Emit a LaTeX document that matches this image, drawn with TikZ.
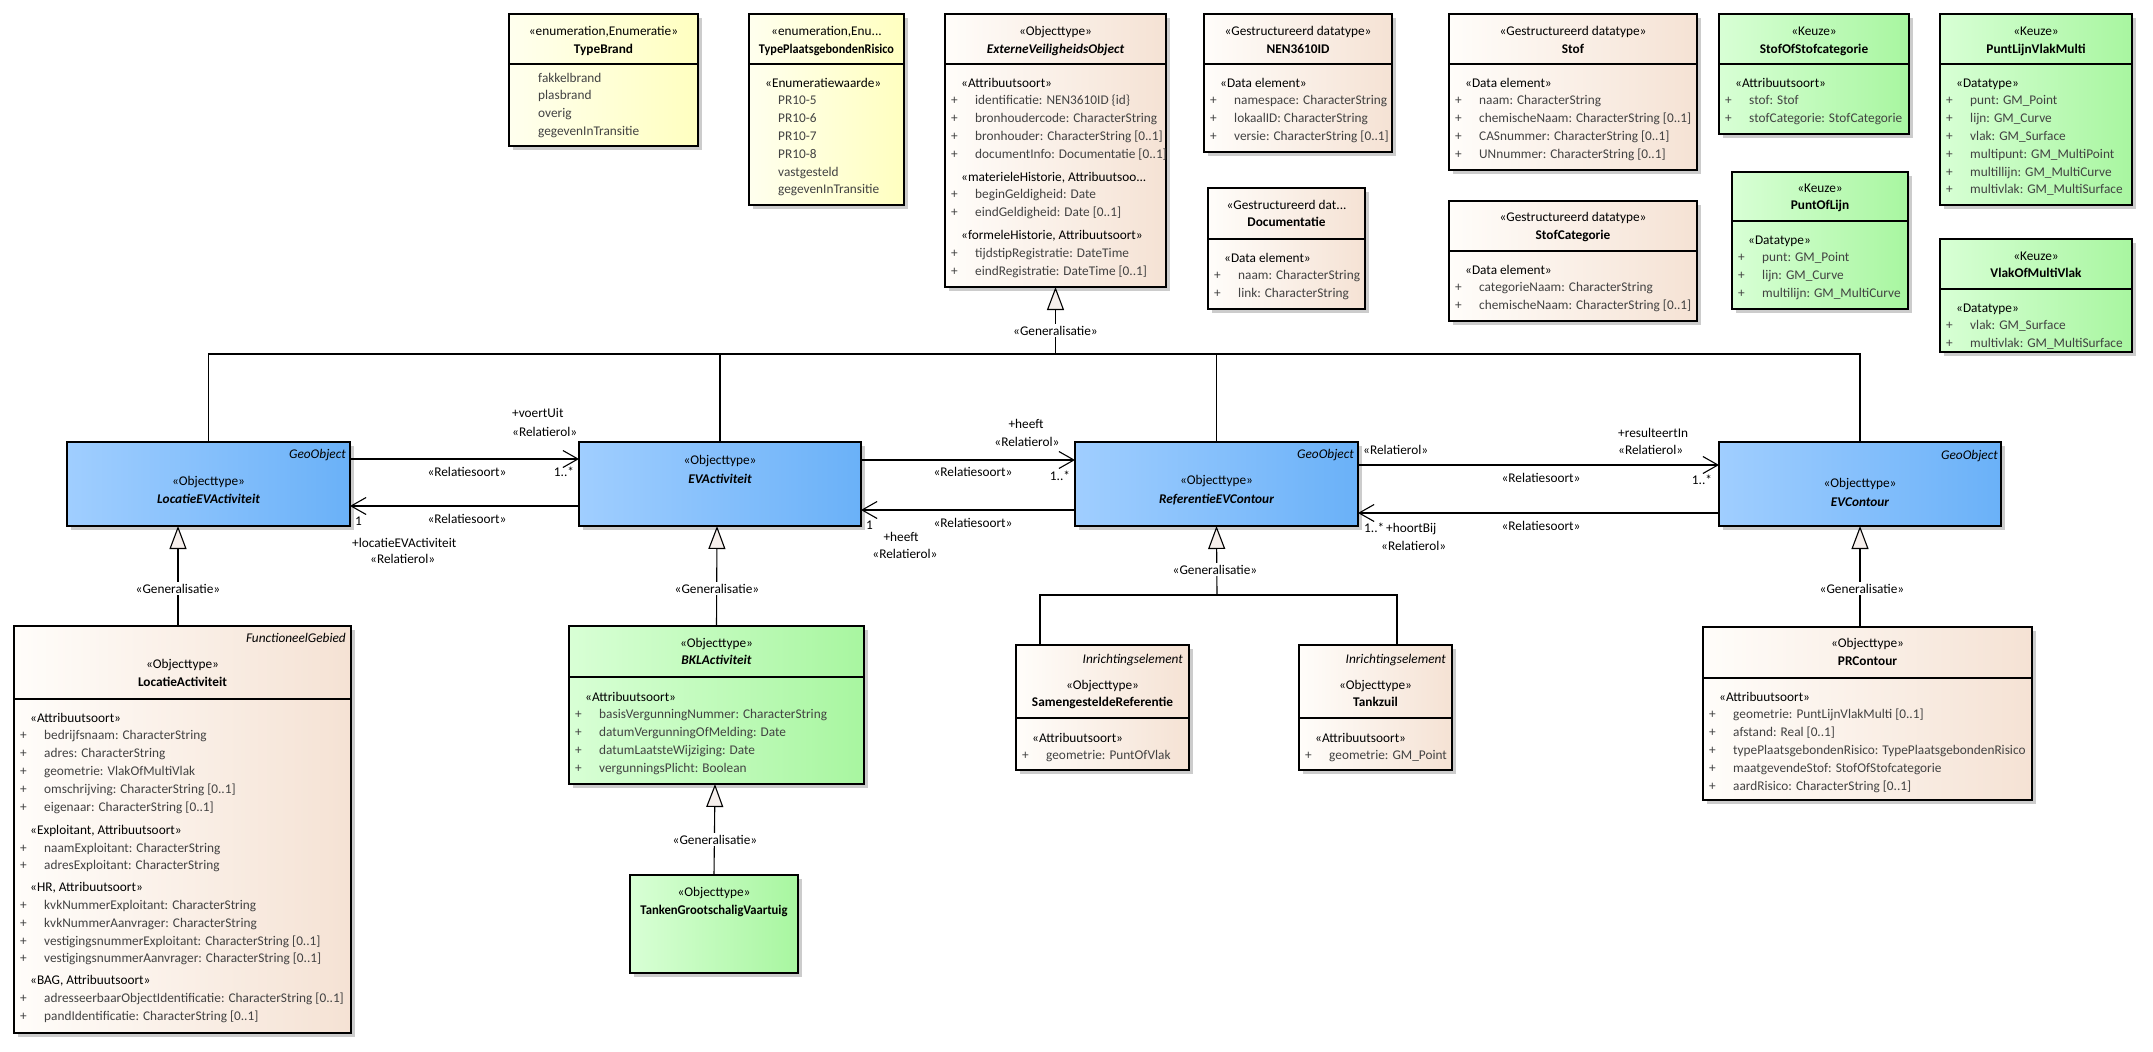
\documentclass[tikz,border=0pt]{standalone}
\usepackage{fontspec}
\usepackage{graphicx}
\setmainfont{Carlito}
\usetikzlibrary{arrows.meta,shadows}

\definecolor{yelL}{RGB}{255,255,238}
\definecolor{yelR}{RGB}{255,255,192}
\definecolor{begL}{RGB}{255,253,250}
\definecolor{begR}{RGB}{245,226,212}
\definecolor{grnL}{RGB}{216,255,213}
\definecolor{grnR}{RGB}{168,246,160}
\definecolor{bluL}{RGB}{160,206,255}
\definecolor{bluR}{RGB}{106,177,248}
\definecolor{attr}{RGB}{66,66,66}
\definecolor{trifill}{RGB}{246,239,236}

\newcommand\st[1]{\hspace*{10pt}\textcolor{black}{#1}}
\newcommand\pa[1]{\makebox[24pt][l]{+}#1}
\newcommand\en[1]{\hspace*{23pt}#1}
\newcommand\ubox[6]{%
  \pgfmathsetlengthmacro\bw{#5-#3}\pgfmathsetlengthmacro\bh{#6-#4}%
  \node[umlbox,#2,minimum width=\bw,minimum height=\bh,anchor=north west] (#1) at (#3,#4) {};}
\newcommand\udiv[2]{\draw[boxline] (#1.west |- 0,#2) -- (#1.east |- 0,#2);}

\tikzset{
  x=1pt, y=-1pt,
  umlbox/.style={draw, line width=1.1pt, inner sep=0pt, outer sep=0pt,
    drop shadow={shadow xshift=4pt, shadow yshift=-4pt, fill=black!20, opacity=1}},
  yel/.style={left color=yelL, right color=yelR},
  beg/.style={left color=begL, right color=begR},
  grn/.style={left color=grnL, right color=grnR},
  blu/.style={left color=bluL, right color=bluR},
  boxline/.style={line width=1.1pt},
  txt/.style={inner sep=0pt, font={\fontsize{13.3}{17.8}\selectfont}},
  hdr/.style={txt, anchor=base},
  hdrb/.style={txt, anchor=base, font={\fontsize{13.3}{17.8}\selectfont\bfseries}},
  hdrbi/.style={txt, anchor=base, font={\fontsize{13.3}{17.8}\selectfont\bfseries\itshape}},
  tag/.style={txt, anchor=base east, font={\fontsize{13.3}{17.8}\selectfont\itshape}},
  body/.style={txt, anchor=base west, text=attr},
  lbl/.style={txt, anchor=base},
  lblw/.style={txt, anchor=base west},
  genlbl/.style={txt, anchor=base, fill=white, inner ysep=2pt, inner xsep=1pt},
  assoc/.style={line width=1.1pt, -{Straight Barb[length=15pt,width=17pt,line width=1.1pt]}},
  gen/.style={line width=1.1pt, -{Triangle[length=23pt,width=17pt,fill=trifill,line width=1.1pt]}},
  plain/.style={line width=1.1pt}
}

\begin{document}
\begin{tikzpicture}
\fill[white] (0,0) rectangle (2153,1052);
\useasboundingbox (0,0) rectangle (2153,1052);

% ---------------- top row ----------------
\ubox{tb}{yel}{509}{14}{698}{146}\udiv{tb}{64}
\node[hdr] (tb-s) at (603.5,35) {«enumeration,Enumeratie»};
\node[hdrb] (tb-n) at (603.5,53) {TypeBrand};
\node[body] (tb-b) at (515,82) {\begin{tabular}[t]{@{}l@{}}\en{fakkelbrand}\\ \en{plasbrand}\\ \en{overig}\\ \en{gegevenInTransitie}\end{tabular}};

\ubox{tp}{yel}{749}{14}{904}{205}\udiv{tp}{64}
\node[hdr] (tp-s) at (826.5,35) {«enumeration,Enu...};
\node[hdrb] (tp-n) at (826.5,53) {\scalebox{0.92}[1]{TypePlaatsgebondenRisico}};
\node[body] (tp-b) at (755,87) {\begin{tabular}[t]{@{}l@{}}\st{«Enumeratiewaarde»}\\ \en{PR10-5}\\ \en{PR10-6}\\ \en{PR10-7}\\ \en{PR10-8}\\ \en{vastgesteld}\\ \en{gegevenInTransitie}\end{tabular}};

\ubox{evo}{beg}{945}{14}{1166}{287}\udiv{evo}{64}
\node[hdr] (evo-s) at (1055.5,35) {«Objecttype»};
\node[hdrbi] (evo-n) at (1055.5,53) {ExterneVeiligheidsObject};
\node[body] (evo-b) at (951,87) {\begin{tabular}[t]{@{}l@{}}\st{«Attribuutsoort»}\\
\pa{identificatie: NEN3610ID \{id\}}\\ \pa{bronhoudercode: CharacterString}\\
\pa{bronhouder: CharacterString [0..1]}\\ \pa{documentInfo: Documentatie [0..1]}\\[5pt]
\st{«materieleHistorie, Attribuutsoo...}\\ \pa{beginGeldigheid: Date}\\ \pa{eindGeldigheid: Date [0..1]}\\[5pt]
\st{«formeleHistorie, Attribuutsoort»}\\ \pa{tijdstipRegistratie: DateTime}\\ \pa{eindRegistratie: DateTime [0..1]}\end{tabular}};

\ubox{nen}{beg}{1204}{14}{1392}{152}\udiv{nen}{64}
\node[hdr] (nen-s) at (1298,35) {«Gestructureerd datatype»};
\node[hdrb] (nen-n) at (1298,53) {NEN3610ID};
\node[body] (nen-b) at (1210,87) {\begin{tabular}[t]{@{}l@{}}\st{«Data element»}\\ \pa{namespace: CharacterString}\\ \pa{lokaalID: CharacterString}\\ \pa{versie: CharacterString [0..1]}\end{tabular}};

\ubox{doc}{beg}{1208}{188}{1365}{309}\udiv{doc}{239}
\node[hdr] (doc-s) at (1286.5,209) {«Gestructureerd dat...};
\node[hdrb] (doc-n) at (1286.5,226) {Documentatie};
\node[body] (doc-b) at (1214,262) {\begin{tabular}[t]{@{}l@{}}\st{«Data element»}\\ \pa{naam: CharacterString}\\ \pa{link: CharacterString}\end{tabular}};

\ubox{stof}{beg}{1449}{14}{1697}{170}\udiv{stof}{64}
\node[hdr] (stof-s) at (1573,35) {«Gestructureerd datatype»};
\node[hdrb] (stof-n) at (1573,53) {Stof};
\node[body] (stof-b) at (1455,87) {\begin{tabular}[t]{@{}l@{}}\st{«Data element»}\\ \pa{naam: CharacterString}\\ \pa{chemischeNaam: CharacterString [0..1]}\\ \pa{CASnummer: CharacterString [0..1]}\\ \pa{UNnummer: CharacterString [0..1]}\end{tabular}};

\ubox{scat}{beg}{1449}{201}{1697}{321}\udiv{scat}{251}
\node[hdr] (scat-s) at (1573,221) {«Gestructureerd datatype»};
\node[hdrb] (scat-n) at (1573,239) {StofCategorie};
\node[body] (scat-b) at (1455,274) {\begin{tabular}[t]{@{}l@{}}\st{«Data element»}\\ \pa{categorieNaam: CharacterString}\\ \pa{chemischeNaam: CharacterString [0..1]}\end{tabular}};

\ubox{sos}{grn}{1719}{14}{1909}{134}\udiv{sos}{64}
\node[hdr] (sos-s) at (1814,35) {«Keuze»};
\node[hdrb] (sos-n) at (1814,53) {StofOfStofcategorie};
\node[body] (sos-b) at (1725,87) {\begin{tabular}[t]{@{}l@{}}\st{«Attribuutsoort»}\\ \pa{stof: Stof}\\ \pa{stofCategorie: StofCategorie}\end{tabular}};

\ubox{plvm}{grn}{1940}{14}{2132}{205}\udiv{plvm}{64}
\node[hdr] (plvm-s) at (2036,35) {«Keuze»};
\node[hdrb] (plvm-n) at (2036,53) {PuntLijnVlakMulti};
\node[body] (plvm-b) at (1946,87) {\begin{tabular}[t]{@{}l@{}}\st{«Datatype»}\\ \pa{punt: GM\_Point}\\ \pa{lijn: GM\_Curve}\\ \pa{vlak: GM\_Surface}\\ \pa{multipunt: GM\_MultiPoint}\\ \pa{multillijn: GM\_MultiCurve}\\ \pa{multivlak: GM\_MultiSurface}\end{tabular}};

\ubox{pol}{grn}{1732}{172}{1908}{309}\udiv{pol}{221}
\node[hdr] (pol-s) at (1820,192) {«Keuze»};
\node[hdrb] (pol-n) at (1820,209) {PuntOfLijn};
\node[body] (pol-b) at (1738,244) {\begin{tabular}[t]{@{}l@{}}\st{«Datatype»}\\ \pa{punt: GM\_Point}\\ \pa{lijn: GM\_Curve}\\ \pa{multilijn: GM\_MultiCurve}\end{tabular}};

\ubox{vmv}{grn}{1940}{239}{2132}{352}\udiv{vmv}{289}
\node[hdr] (vmv-s) at (2036,260) {«Keuze»};
\node[hdrb] (vmv-n) at (2036,277) {VlakOfMultiVlak};
\node[body] (vmv-b) at (1946,312) {\begin{tabular}[t]{@{}l@{}}\st{«Datatype»}\\ \pa{vlak: GM\_Surface}\\ \pa{multivlak: GM\_MultiSurface}\end{tabular}};

% ---------------- middle row (blue) ----------------
\ubox{locev}{blu}{67}{442}{350}{526}
\node[tag] (locev-t) at (346,458) {GeoObject};
\node[hdr] (locev-s) at (208.5,485) {«Objecttype»};
\node[hdrbi] (locev-n) at (208.5,503) {LocatieEVActiviteit};

\ubox{evact}{blu}{579}{442}{861}{526}
\node[hdr] (evact-s) at (720,464) {«Objecttype»};
\node[hdrbi] (evact-n) at (720,483) {EVActiviteit};

\ubox{refev}{blu}{1075}{442}{1358}{526}
\node[tag] (refev-t) at (1354,458) {GeoObject};
\node[hdr] (refev-s) at (1216.5,484) {«Objecttype»};
\node[hdrbi] (refev-n) at (1216.5,503) {ReferentieEVContour};

\ubox{evc}{blu}{1719}{442}{2001}{526}
\node[tag] (evc-t) at (1998,459) {GeoObject};
\node[hdr] (evc-s) at (1860,487) {«Objecttype»};
\node[hdrbi] (evc-n) at (1860,506) {EVContour};

% ---------------- bottom row ----------------
\ubox{locact}{beg}{14}{626}{351}{1033}\udiv{locact}{699}
\node[tag] (locact-t) at (346,642) {FunctioneelGebied};
\node[hdr] (locact-s) at (182.5,668) {«Objecttype»};
\node[hdrb] (locact-n) at (182.5,686) {LocatieActiviteit};
\node[body] (locact-b) at (20,722) {\begin{tabular}[t]{@{}l@{}}\st{«Attribuutsoort»}\\
\pa{bedrijfsnaam: CharacterString}\\ \pa{adres: CharacterString}\\ \pa{geometrie: VlakOfMultiVlak}\\
\pa{omschrijving: CharacterString [0..1]}\\ \pa{eigenaar: CharacterString [0..1]}\\[5.5pt]
\st{«Exploitant, Attribuutsoort»}\\ \pa{naamExploitant: CharacterString}\\ \pa{adresExploitant: CharacterString}\\[4pt]
\st{«HR, Attribuutsoort»}\\ \pa{kvkNummerExploitant: CharacterString}\\ \pa{kvkNummerAanvrager: CharacterString}\\
\pa{vestigingsnummerExploitant: CharacterString [0..1]}\\ \pa{vestigingsnummerAanvrager: CharacterString [0..1]}\\[4pt]
\st{«BAG, Attribuutsoort»}\\ \pa{adresseerbaarObjectIdentificatie: CharacterString [0..1]}\\ \pa{pandIdentificatie: CharacterString [0..1]}\end{tabular}};

\ubox{bkl}{grn}{569}{626}{864}{784}\udiv{bkl}{677}
\node[hdr] (bkl-s) at (716.5,647) {«Objecttype»};
\node[hdrbi] (bkl-n) at (716.5,664) {BKLActiviteit};
\node[body] (bkl-b) at (575,701) {\begin{tabular}[t]{@{}l@{}}\st{«Attribuutsoort»}\\ \pa{basisVergunningNummer: CharacterString}\\ \pa{datumVergunningOfMelding: Date}\\ \pa{datumLaatsteWijziging: Date}\\ \pa{vergunningsPlicht: Boolean}\end{tabular}};

\ubox{tgv}{grn}{630}{875}{798}{973}
\node[hdr] (tgv-s) at (714,896) {«Objecttype»};
\node[hdrb] (tgv-n) at (714,914) {\scalebox{0.95}[1]{TankenGrootschaligVaartuig}};

\ubox{sam}{beg}{1016}{645}{1189}{770}\udiv{sam}{718}
\node[tag] (sam-t) at (1183,663) {Inrichtingselement};
\node[hdr] (sam-s) at (1102.5,689) {«Objecttype»};
\node[hdrb] (sam-n) at (1102.5,706) {SamengesteldeReferentie};
\node[body] (sam-b) at (1022,742) {\begin{tabular}[t]{@{}l@{}}\st{«Attribuutsoort»}\\ \pa{geometrie: PuntOfVlak}\end{tabular}};

\ubox{tz}{beg}{1299}{645}{1452}{770}\udiv{tz}{718}
\node[tag] (tz-t) at (1446,663) {Inrichtingselement};
\node[hdr] (tz-s) at (1375.5,689) {«Objecttype»};
\node[hdrb] (tz-n) at (1375.5,706) {Tankzuil};
\node[body] (tz-b) at (1305,742) {\begin{tabular}[t]{@{}l@{}}\st{«Attribuutsoort»}\\ \pa{geometrie: GM\_Point}\end{tabular}};

\ubox{prc}{beg}{1703}{627}{2032}{800}\udiv{prc}{678}
\node[hdr] (prc-s) at (1867.5,647) {«Objecttype»};
\node[hdrb] (prc-n) at (1867.5,665) {PRContour};
\node[body] (prc-b) at (1709,701) {\begin{tabular}[t]{@{}l@{}}\st{«Attribuutsoort»}\\ \pa{geometrie: PuntLijnVlakMulti [0..1]}\\ \pa{afstand: Real [0..1]}\\ \pa{typePlaatsgebondenRisico: TypePlaatsgebondenRisico}\\ \pa{maatgevendeStof: StofOfStofcategorie}\\ \pa{aardRisico: CharacterString [0..1]}\end{tabular}};

% ---------------- generalisations ----------------
\coordinate (hl) at (1055.5,354);
\draw[plain] (locev.north) -- (locev.north |- hl) -- (evc.north |- hl) -- (evc.north);
\draw[plain] (evact.north) -- (evact.north |- hl);
\draw[plain] (refev.north) -- (refev.north |- hl);
\draw[gen] (hl) -- (evo.south);
\node[genlbl] (g0) at (1055.5,335) {«Generalisatie»};

\draw[gen] ([xshift=-4.5pt]locact.north) -- ([xshift=-30.5pt]locev.south);
\node[genlbl] (g1) at (178,593) {«Generalisatie»};

\draw[gen] (bkl.north) -- ([xshift=-3pt]evact.south);
\node[genlbl] (g2) at (717,593) {«Generalisatie»};

\draw[gen] (tgv.north) -- ([xshift=-1.5pt]bkl.south);
\node[genlbl] (g3) at (715,844) {«Generalisatie»};

\coordinate (hl2) at (1217,595);
\draw[plain] ([xshift=-62.5pt]sam.north) -- ([xshift=-62.5pt]sam.north |- hl2) -- ([xshift=21.5pt]tz.north |- hl2) -- ([xshift=21.5pt]tz.north);
\draw[gen] (hl2) -- (refev.south);
\node[genlbl] (g4) at (1215,574) {«Generalisatie»};

\draw[gen] ([xshift=-7.5pt]prc.north) -- (evc.south);
\node[genlbl] (g5) at (1862,593) {«Generalisatie»};

% ---------------- associations ----------------
\draw[assoc] ([yshift=-17pt]locev.north east) -- ([yshift=-17pt]evact.north west);
\draw[assoc] ([yshift=20pt]evact.south west) -- ([yshift=20pt]locev.south east);
\node[lblw] (a1r) at (512,417) {+voertUit};
\node[lblw] (a1s) at (512,436) {«Relatierol»};
\node[lbl] (a1t) at (467,476) {«Relatiesoort»};
\node[lbl] (a1m) at (564,476) {1..*};
\node[lbl] (a2t) at (467,523) {«Relatiesoort»};
\node[lblw] (a2m) at (355,525) {1};
\node[lblw] (a2r) at (352,547) {+locatieEVActiviteit};
\node[lblw] (a2s) at (370,563) {«Relatierol»};

\draw[assoc] ([yshift=-18pt]evact.north east) -- ([yshift=-18pt]refev.north west);
\draw[assoc] ([yshift=16pt]refev.south west) -- ([yshift=16pt]evact.south east);
\node[lbl] (a3r) at (1026,428) {+heeft};
\node[lbl] (a3s) at (1027,446) {«Relatierol»};
\node[lbl] (a3t) at (973,476) {«Relatiesoort»};
\node[lbl] (a3m) at (1060,480) {1..*};
\node[lbl] (a4t) at (973,527) {«Relatiesoort»};
\node[lblw] (a4m) at (866,529) {1};
\node[lbl] (a4r) at (901,541) {+heeft};
\node[lbl] (a4s) at (905,558) {«Relatierol»};

\draw[assoc] ([yshift=-23pt]refev.north east) -- ([yshift=-23pt]evc.north west);
\draw[assoc] ([yshift=13pt]evc.south west) -- ([yshift=13pt]refev.south east);
\node[lblw] (a5x) at (1363,454) {«Relatierol»};
\node[lblw] (a5r) at (1618,437) {+resulteertIn};
\node[lblw] (a5s) at (1618,454) {«Relatierol»};
\node[lbl] (a5t) at (1541,482) {«Relatiesoort»};
\node[lbl] (a5m) at (1702,484) {1..*};
\node[lbl] (a6t) at (1541,530) {«Relatiesoort»};
\node[lblw] (a6m) at (1364,532) {1..*};
\node[lblw] (a6r) at (1386,532) {+hoortBij};
\node[lblw] (a6s) at (1381,550) {«Relatierol»};
\end{tikzpicture}
\end{document}
